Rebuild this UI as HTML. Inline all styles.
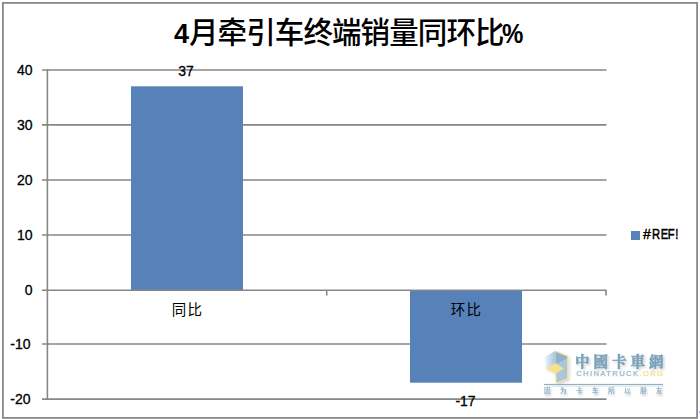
<!DOCTYPE html>
<html><head><meta charset="utf-8">
<style>
html,body{margin:0;padding:0;background:#fff;}
body{width:700px;height:419px;overflow:hidden;position:relative;}
svg{position:absolute;left:0;top:0;display:block;}
.ax{font-family:"Liberation Sans","Noto Sans CJK SC",sans-serif;font-size:14px;fill:#000;stroke:#000;stroke-width:0.3px;}
.cat{font-family:"Liberation Sans","Noto Sans CJK SC",sans-serif;font-size:14.5px;letter-spacing:1.2px;fill:#000;}
.ttl{font-family:"Liberation Sans","Noto Sans CJK SC",sans-serif;font-size:28px;font-weight:bold;fill:#000;}
</style></head>
<body>
<svg width="700" height="419" viewBox="0 0 700 419">
  <rect x="0" y="0" width="700" height="419" fill="#fff"/>
  <!-- gridlines -->
  <g stroke="#878787" stroke-width="1.6" fill="none">
    <line x1="42" y1="70" x2="606.5" y2="70"/>
    <line x1="42" y1="124.9" x2="606.5" y2="124.9"/>
    <line x1="42" y1="180" x2="606.5" y2="180"/>
    <line x1="42" y1="235" x2="606.5" y2="235"/>
    <line x1="42" y1="344" x2="606.5" y2="344"/>
    <line x1="42" y1="399.1" x2="606.5" y2="399.1"/>
  </g>
  <!-- bars -->
  <rect x="131" y="86.3" width="112" height="203.7" fill="#5782B9"/>
  <rect x="410" y="290" width="112" height="92.7" fill="#5782B9"/>
  <!-- axes -->
  <g stroke="#878787" stroke-width="1.6" fill="none">
    <line x1="47.4" y1="69.2" x2="47.4" y2="399.9"/>
    <line x1="42" y1="290.3" x2="606.5" y2="290.3"/>
    <line x1="326.7" y1="290" x2="326.7" y2="295.5"/>
    <line x1="606" y1="290" x2="606" y2="295.5"/>
  </g>
  <!-- outer frame -->
  <rect x="2.9" y="2.9" width="694.2" height="415" fill="none" stroke="#878787" stroke-width="1.8"/>

  <!-- title -->
  <text class="ttl" x="174" y="43.2" style="font-size:27px">4</text>
  <text class="ttl" x="189" y="42.8" style="font-size:29.5px;font-weight:500;letter-spacing:-0.9px">月牵引车终端销量同环比</text>
  <text class="ttl" style="font-size:27px" transform="translate(502,43.2) scale(0.89,1)">%</text>

  <!-- y labels -->
  <g class="ax" text-anchor="end">
    <text x="32.5" y="75">40</text>
    <text x="32.5" y="130">30</text>
    <text x="32.5" y="185">20</text>
    <text x="32.5" y="240">10</text>
    <text x="32.5" y="295">0</text>
    <text x="30.6" y="349">-10</text>
    <text x="30.6" y="404.3">-20</text>
  </g>
  <!-- data labels -->
  <text class="ax" x="186" y="75.7" text-anchor="middle">37</text>
  <text class="ax" x="465.5" y="406" text-anchor="middle">-17</text>
  <!-- category labels -->
  <text class="cat" x="171.8" y="315">同比</text>
  <text class="cat" x="450.7" y="315">环比</text>
  <!-- legend -->
  <rect x="631" y="231" width="9" height="9" fill="#5782B9"/>
  <text class="ax" x="642.9" y="239.3" style="stroke-width:0.45px">#</text><text class="ax" transform="translate(643,239.3) scale(0.8,1)" x="11.4 22.2 31 40.3" style="stroke-width:0.5px">REF!</text>

  <!-- watermark -->
  <defs>
    <linearGradient id="lf" x1="0" y1="0" x2="1" y2="0">
      <stop offset="0" stop-color="#eef4f9"/>
      <stop offset="1" stop-color="#a3c3da"/>
    </linearGradient>
    <filter id="sh" x="-20%" y="-20%" width="140%" height="160%">
      <feDropShadow dx="1.5" dy="1.5" stdDeviation="1.2" flood-color="#000" flood-opacity="0.18"/>
    </filter>
    <filter id="sh2" x="-10%" y="-50%" width="120%" height="250%">
      <feDropShadow dx="1" dy="2" stdDeviation="1.2" flood-color="#000" flood-opacity="0.22"/>
    </filter>
  </defs>
  <g filter="url(#sh)">
    <polygon points="555,351 567.6,356 567.6,378.6 556.2,383" fill="#a8c7dd" stroke="#f6e08e" stroke-width="1"/>
    <polygon points="555.6,352.2 567,356.8 567,358.5 556,364" fill="#8fb2ca"/>
    <polygon points="545,357 555,351 555.8,363.5 545.8,368.5" fill="url(#lf)"/>
    <polygon points="545.8,368.5 555.8,363.3 563.9,368.5 556.3,373.5" fill="#f8e08c"/>
  </g>
  <text x="575" y="366.6" font-family="'Liberation Serif','Noto Serif CJK SC',serif" font-weight="bold" font-size="14.5" fill="#7ba2bb" stroke="#7ba2bb" stroke-width="0.5" letter-spacing="4" filter="url(#sh)">中國卡車網</text>
  <text x="576.2" y="376.4" font-family="'Liberation Sans',sans-serif" font-size="7.6" fill="#97b8cd" stroke="#97b8cd" stroke-width="0.25" letter-spacing="1.4">CHINATRUCK<tspan fill="#f6dc8c" stroke="#f6dc8c">.ORG</tspan></text>
  <rect x="544" y="383.9" width="119" height="1.2" fill="#8fb1c8" filter="url(#sh2)"/>
  <text x="544" y="393.2" font-family="'Liberation Sans','Noto Sans CJK SC',sans-serif" font-size="6.6" font-weight="bold" fill="#93b3c9" letter-spacing="9.4" filter="url(#sh2)">因为卡车所以朋友</text>
  <rect x="699" y="411" width="1" height="2.5" fill="#9dbdf0"/>
</svg>
</body></html>
